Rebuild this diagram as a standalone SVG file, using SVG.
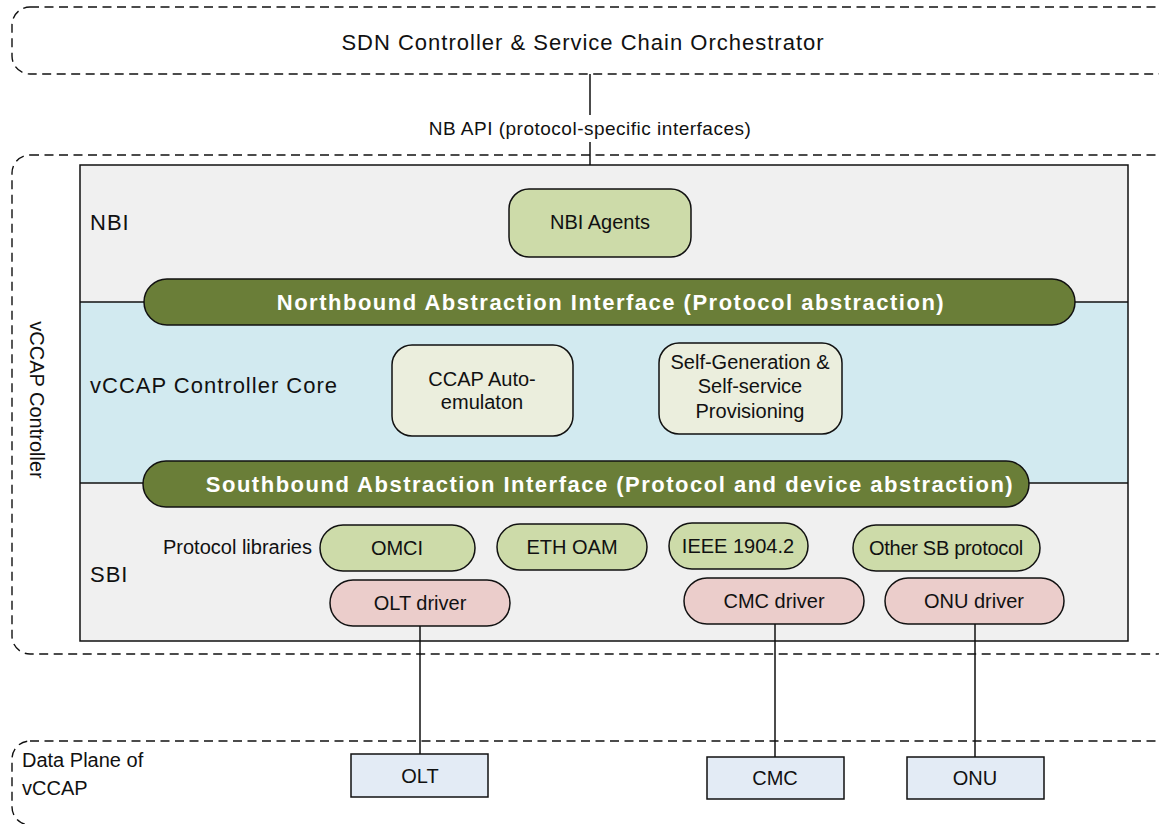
<svg xmlns="http://www.w3.org/2000/svg" width="1159" height="824" viewBox="0 0 1159 824">
  <style>
    text { font-family: "Liberation Sans", Arial, sans-serif; fill: #111; }
    .dash { fill: none; stroke: #111; stroke-width: 1.4; stroke-dasharray: 9 5.5; }
    .big { font-size: 22px; letter-spacing: 1px; }
    .lbl { font-size: 20px; text-anchor: middle; }
    .band { fill: #d2eaf0; }
    .gray { fill: #f0f0f0; }
    .edge { stroke: #111; stroke-width: 1.5; }
    .bar { fill: #6a7e38; stroke: #111; stroke-width: 1.5; }
    .bartxt { font-size: 22px; font-weight: bold; letter-spacing: 1.5px; fill: #fff; text-anchor: middle; }
    .proto { fill: #cddba9; stroke: #111; stroke-width: 1.5; }
    .core { fill: #ebeedd; stroke: #111; stroke-width: 1.5; }
    .drv { fill: #ebcdcb; stroke: #111; stroke-width: 1.5; }
    .dev { fill: #e3ebf5; stroke: #111; stroke-width: 1.5; }
    .wire { stroke: #111; stroke-width: 1.5; fill: none; }
  </style>

  <!-- orchestrator region -->
  <g id="orchestrator">
    <rect class="dash" x="12" y="7" width="1163" height="67" rx="18"/>
    <text class="big" x="583" y="50" text-anchor="middle">SDN Controller &amp; Service Chain Orchestrator</text>
  </g>

  <!-- controller region -->
  <g id="controller">
    <rect class="dash" x="12" y="155" width="1163" height="499" rx="18"/>
    <text x="30" y="400" font-size="20" text-anchor="middle" transform="rotate(90 30 400)">vCCAP Controller</text>
  </g>

  <!-- layered body of the controller -->
  <g id="layers">
    <rect class="gray" x="80" y="165" width="1048" height="137"/>
    <rect class="band" x="80" y="302" width="1048" height="181"/>
    <rect class="gray" x="80" y="483" width="1048" height="158"/>
    <line class="edge" x1="80" y1="302" x2="1128" y2="302"/>
    <line class="edge" x1="80" y1="483" x2="1128" y2="483"/>
    <rect x="80" y="165" width="1048" height="476" fill="none" stroke="#111" stroke-width="1.5"/>
    <text class="big" x="90" y="230" letter-spacing="1.5">NBI</text>
    <text class="big" x="90" y="393" letter-spacing="1.6">vCCAP Controller Core</text>
    <text class="big" x="90" y="582" letter-spacing="1.5">SBI</text>
    <text x="163" y="554" font-size="20">Protocol libraries</text>
  </g>

  <g id="nbi-agents">
    <rect class="proto" x="509" y="189" width="182" height="68" rx="20"/>
    <text class="lbl" x="600" y="229">NBI Agents</text>
  </g>

  <g id="northbound">
    <rect class="bar" x="144" y="279" width="931" height="46" rx="23"/>
    <text class="bartxt" x="611" y="310">Northbound Abstraction Interface (Protocol abstraction)</text>
  </g>

  <g id="ccap-auto">
    <rect class="core" x="392" y="345" width="181" height="91" rx="20"/>
    <text class="lbl" x="482" y="386">CCAP Auto-</text>
    <text class="lbl" x="482" y="409">emulaton</text>
  </g>

  <g id="self-gen">
    <rect class="core" x="659" y="343" width="183" height="91" rx="20"/>
    <text class="lbl" x="750" y="369" font-size="19.5">Self-Generation &amp;</text>
    <text class="lbl" x="750" y="393" font-size="19.5">Self-service</text>
    <text class="lbl" x="750" y="418" font-size="19.5">Provisioning</text>
  </g>

  <g id="southbound">
    <rect class="bar" x="143" y="461" width="886" height="46" rx="23"/>
    <text class="bartxt" x="610" y="492">Southbound Abstraction Interface (Protocol and device abstraction)</text>
  </g>

  <g id="omci">
    <rect class="proto" x="320" y="525" width="155" height="46" rx="23"/>
    <text class="lbl" x="397" y="555">OMCI</text>
  </g>
  <g id="eth-oam">
    <rect class="proto" x="497" y="524" width="150" height="46" rx="23"/>
    <text class="lbl" x="572" y="554">ETH OAM</text>
  </g>
  <g id="ieee">
    <rect class="proto" x="669" y="523" width="139" height="46" rx="23"/>
    <text class="lbl" x="738" y="553">IEEE 1904.2</text>
  </g>
  <g id="other-sb">
    <rect class="proto" x="853" y="525" width="187" height="46" rx="23"/>
    <text class="lbl" x="946" y="555" letter-spacing="-0.3">Other SB protocol</text>
  </g>

  <g id="olt-driver">
    <rect class="drv" x="330" y="580" width="180" height="46" rx="23"/>
    <text class="lbl" x="420" y="610">OLT driver</text>
  </g>
  <g id="cmc-driver">
    <rect class="drv" x="684" y="578" width="180" height="46" rx="23"/>
    <text class="lbl" x="774" y="608">CMC driver</text>
  </g>
  <g id="onu-driver">
    <rect class="drv" x="885" y="578" width="179" height="46" rx="23"/>
    <text class="lbl" x="974" y="608">ONU driver</text>
  </g>

  <!-- data plane region -->
  <g id="data-plane">
    <rect class="dash" x="12" y="741" width="1163" height="84" rx="18"/>
    <text x="22" y="767" font-size="20">Data Plane of</text>
    <text x="22" y="795" font-size="20">vCCAP</text>
  </g>

  <!-- connectors -->
  <g id="connectors">
    <line class="wire" x1="590" y1="74" x2="590" y2="165"/>
    <rect x="426" y="115" width="330" height="27" fill="#fff"/>
    <text x="590" y="135" font-size="19" letter-spacing="0.5" text-anchor="middle">NB API (protocol-specific interfaces)</text>
    <line class="wire" x1="420" y1="626" x2="420" y2="754"/>
    <line class="wire" x1="775" y1="624" x2="775" y2="757"/>
    <line class="wire" x1="975" y1="624" x2="975" y2="757"/>
  </g>

  <g id="olt">
    <rect class="dev" x="351" y="754" width="137" height="43"/>
    <text class="lbl" x="420" y="783">OLT</text>
  </g>
  <g id="cmc">
    <rect class="dev" x="707" y="757" width="137" height="42"/>
    <text class="lbl" x="775" y="785">CMC</text>
  </g>
  <g id="onu">
    <rect class="dev" x="907" y="757" width="137" height="42"/>
    <text class="lbl" x="975" y="785">ONU</text>
  </g>
</svg>
